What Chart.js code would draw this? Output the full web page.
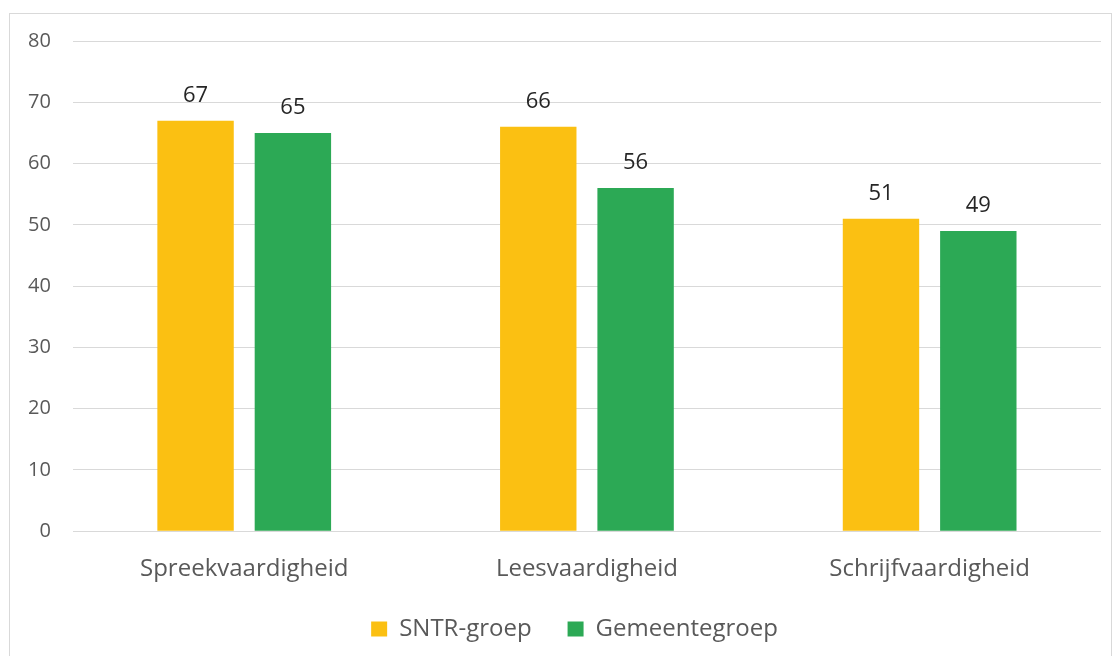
<!DOCTYPE html>
<html>
<head>
<meta charset="utf-8">
<script src="https://cdn.jsdelivr.net/npm/chart.js@4"></script>
<style>
  html, body { margin: 0; padding: 0; background: #fff; }
  #frame { position: absolute; left: 9px; top: 13px; width: 1103px; height: 660px; border: 1px solid #d9d9d9; box-sizing: border-box; }
  #wrap { position: absolute; left: 0; top: 0; width: 1115px; height: 656px; }
</style>
</head>
<body>
<div id="frame"></div>
<div id="wrap"><canvas id="myBarChart"></canvas></div>
<script>
const categories = ['Spreekvaardigheid', 'Leesvaardigheid', 'Schrijfvaardigheid'];
const sntrValues = [67, 66, 51];
const gemeenteValues = [65, 56, 49];
const seriesNames = ['SNTR-groep', 'Gemeentegroep'];

const FONT = "'Open Sans', 'Noto Sans', sans-serif";
const LEGEND_TRIM = 19;
const LEGEND_SHIFT = 21;

// draw the value above each bar
const valueLabels = {
    id: 'valueLabels',
    afterDatasetsDraw(chart) {
        const ctx = chart.ctx;
        ctx.save();
        ctx.font = '22px ' + FONT;
        ctx.fillStyle = '#262626';
        ctx.textAlign = 'center';
        ctx.textBaseline = 'alphabetic';
        chart.data.datasets.forEach((ds, i) => {
            chart.getDatasetMeta(i).data.forEach((bar, j) => {
                ctx.fillText(ds.data[j], bar.x, bar.y - 19);
            });
        });
        ctx.restore();
    }
};

// wide gap between legend items, but keep the legend short
const legendHeight = {
    id: 'legendHeight',
    beforeInit(chart) {
        const fit = chart.legend.fit;
        chart.legend.fit = function () {
            fit.bind(chart.legend)();
            this.height -= LEGEND_TRIM;
        };
    },
    afterLayout(chart) {
        chart.legend.top -= LEGEND_TRIM;
        chart.legend.left += LEGEND_SHIFT;
        chart.legend.right += LEGEND_SHIFT;
    }
};

const config = {
    type: 'bar',
    data: {
        labels: categories,
        datasets: [{
            label: seriesNames[0],
            data: sntrValues,
            backgroundColor: '#FBC012',
            categoryPercentage: 0.568,
            barPercentage: 0.785
        }, {
            label: seriesNames[1],
            data: gemeenteValues,
            backgroundColor: '#2CA955',
            categoryPercentage: 0.568,
            barPercentage: 0.785
        }]
    },
    options: {
        responsive: true,
        maintainAspectRatio: false,
        animation: false,
        layout: { padding: { top: 41, left: 6, right: 14, bottom: 5 } },
        scales: {
            x: {
                grid: { display: false },
                border: { display: false },
                ticks: { color: '#595959', font: { family: FONT, size: 24 }, padding: 16 }
            },
            y: {
                min: 0,
                max: 80,
                ticks: { stepSize: 10, color: '#595959', font: { family: FONT, size: 20 }, padding: 22 },
                grid: { color: '#d9d9d9', drawTicks: false },
                border: { display: false }
            }
        },
        plugins: {
            legend: {
                position: 'bottom',
                labels: {
                    color: '#595959',
                    font: { family: FONT, size: 24 },
                    boxWidth: 16,
                    boxHeight: 15,
                    padding: 36
                }
            },
            tooltip: { enabled: false }
        }
    },
    plugins: [valueLabels, legendHeight]
};

new Chart(document.getElementById('myBarChart'), config);
</script>
</body>
</html>
